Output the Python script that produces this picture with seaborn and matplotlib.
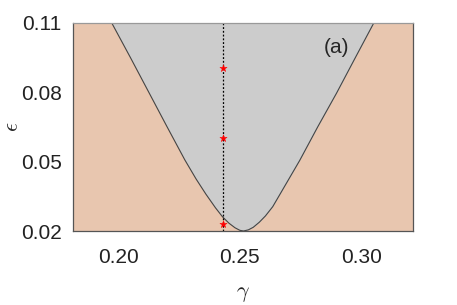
"""
Arnold-tongue style stability diagram in the (gamma, epsilon) plane, panel (a).
"""

import matplotlib.pyplot as plt
import pandas as pd
import seaborn as sns

# Boundary of the grey (locked) region, left branch top -> tip -> right branch top
gamma_boundary = [
    0.1973, 0.2050, 0.2123, 0.2200, 0.2274, 0.2320, 0.2360, 0.2400,
    0.2429, 0.2455, 0.2480, 0.2500, 0.2515,
    0.2535, 0.2555, 0.2580, 0.2605, 0.2635, 0.2670, 0.2746, 0.2820,
    0.2897, 0.2975, 0.3051,
]
eps_boundary = [
    0.1100, 0.0950, 0.0805, 0.0652, 0.0507, 0.0425, 0.0360, 0.0300,
    0.0261, 0.0234, 0.0214, 0.0203, 0.0200,
    0.0205, 0.0216, 0.0238, 0.0265, 0.0305, 0.0368, 0.0505, 0.0650,
    0.0795, 0.0950, 0.1100,
]

# Dotted cut and the marked points on it
gamma_cut = 0.2429
eps_stars = [0.0906, 0.0600, 0.0230]

x_ticks = [0.20, 0.25, 0.30]
y_ticks = [0.02, 0.05, 0.08, 0.11]
x_limits = (0.1813, 0.3212)
y_limits = (0.02, 0.11)

PEACH = "#e8c6af"
GREY = "#cccccc"
EDGE = "#555555"

sns.set_style("white")
plt.rcParams["font.family"] = ["Liberation Sans", "DejaVu Sans"]
plt.rcParams["mathtext.fontset"] = "cm"

fig = plt.figure(figsize=(4.57, 3.05), dpi=100)
ax = fig.add_axes([0.159, 0.2426, 0.745, 0.683])
ax.set_facecolor(PEACH)

df = pd.DataFrame({"gamma": gamma_boundary, "eps": eps_boundary})

# grey region above the boundary
ax.fill_between(df["gamma"], df["eps"], y_limits[1], color=GREY, lw=0)
sns.lineplot(data=df, x="gamma", y="eps", color="#444444", lw=0.8, ax=ax,
             sort=False)

# vertical dotted cut with red stars
ax.axvline(gamma_cut, color="black", ls=(0, (1.5, 1.5)), lw=0.9)
stars = pd.DataFrame({"gamma": [gamma_cut] * len(eps_stars), "eps": eps_stars})
sns.scatterplot(data=stars, x="gamma", y="eps", marker="*", color="red",
                s=30, edgecolor="red", linewidth=0.3, ax=ax, zorder=5)

ax.text(0.2897, 0.0994, "(a)", fontsize=15, ha="center", va="center")

ax.set_xlim(x_limits)
ax.set_ylim(y_limits)
ax.set_xticks(x_ticks)
ax.set_yticks(y_ticks)
ax.set_xticklabels([f"{v:.2f}" for v in x_ticks], fontsize=15, color="#222222")
ax.set_yticklabels([f"{v:.2f}" for v in y_ticks], fontsize=15, color="#222222")
ax.tick_params(axis="x", length=0, pad=12)
ax.tick_params(axis="y", length=0, pad=8)

ax.set_xlabel(r"$\gamma$", fontsize=16)
ax.set_ylabel(r"$\epsilon$", fontsize=16, va="center")
ax.xaxis.set_label_coords(0.5, -0.25)
ax.yaxis.set_label_coords(-0.175, 0.5)

for side, spine in ax.spines.items():
    spine.set_color(EDGE if side != "top" else "#999999")
    spine.set_linewidth(0.9)

fig.savefig("out.png", dpi=100)
plt.close(fig)
